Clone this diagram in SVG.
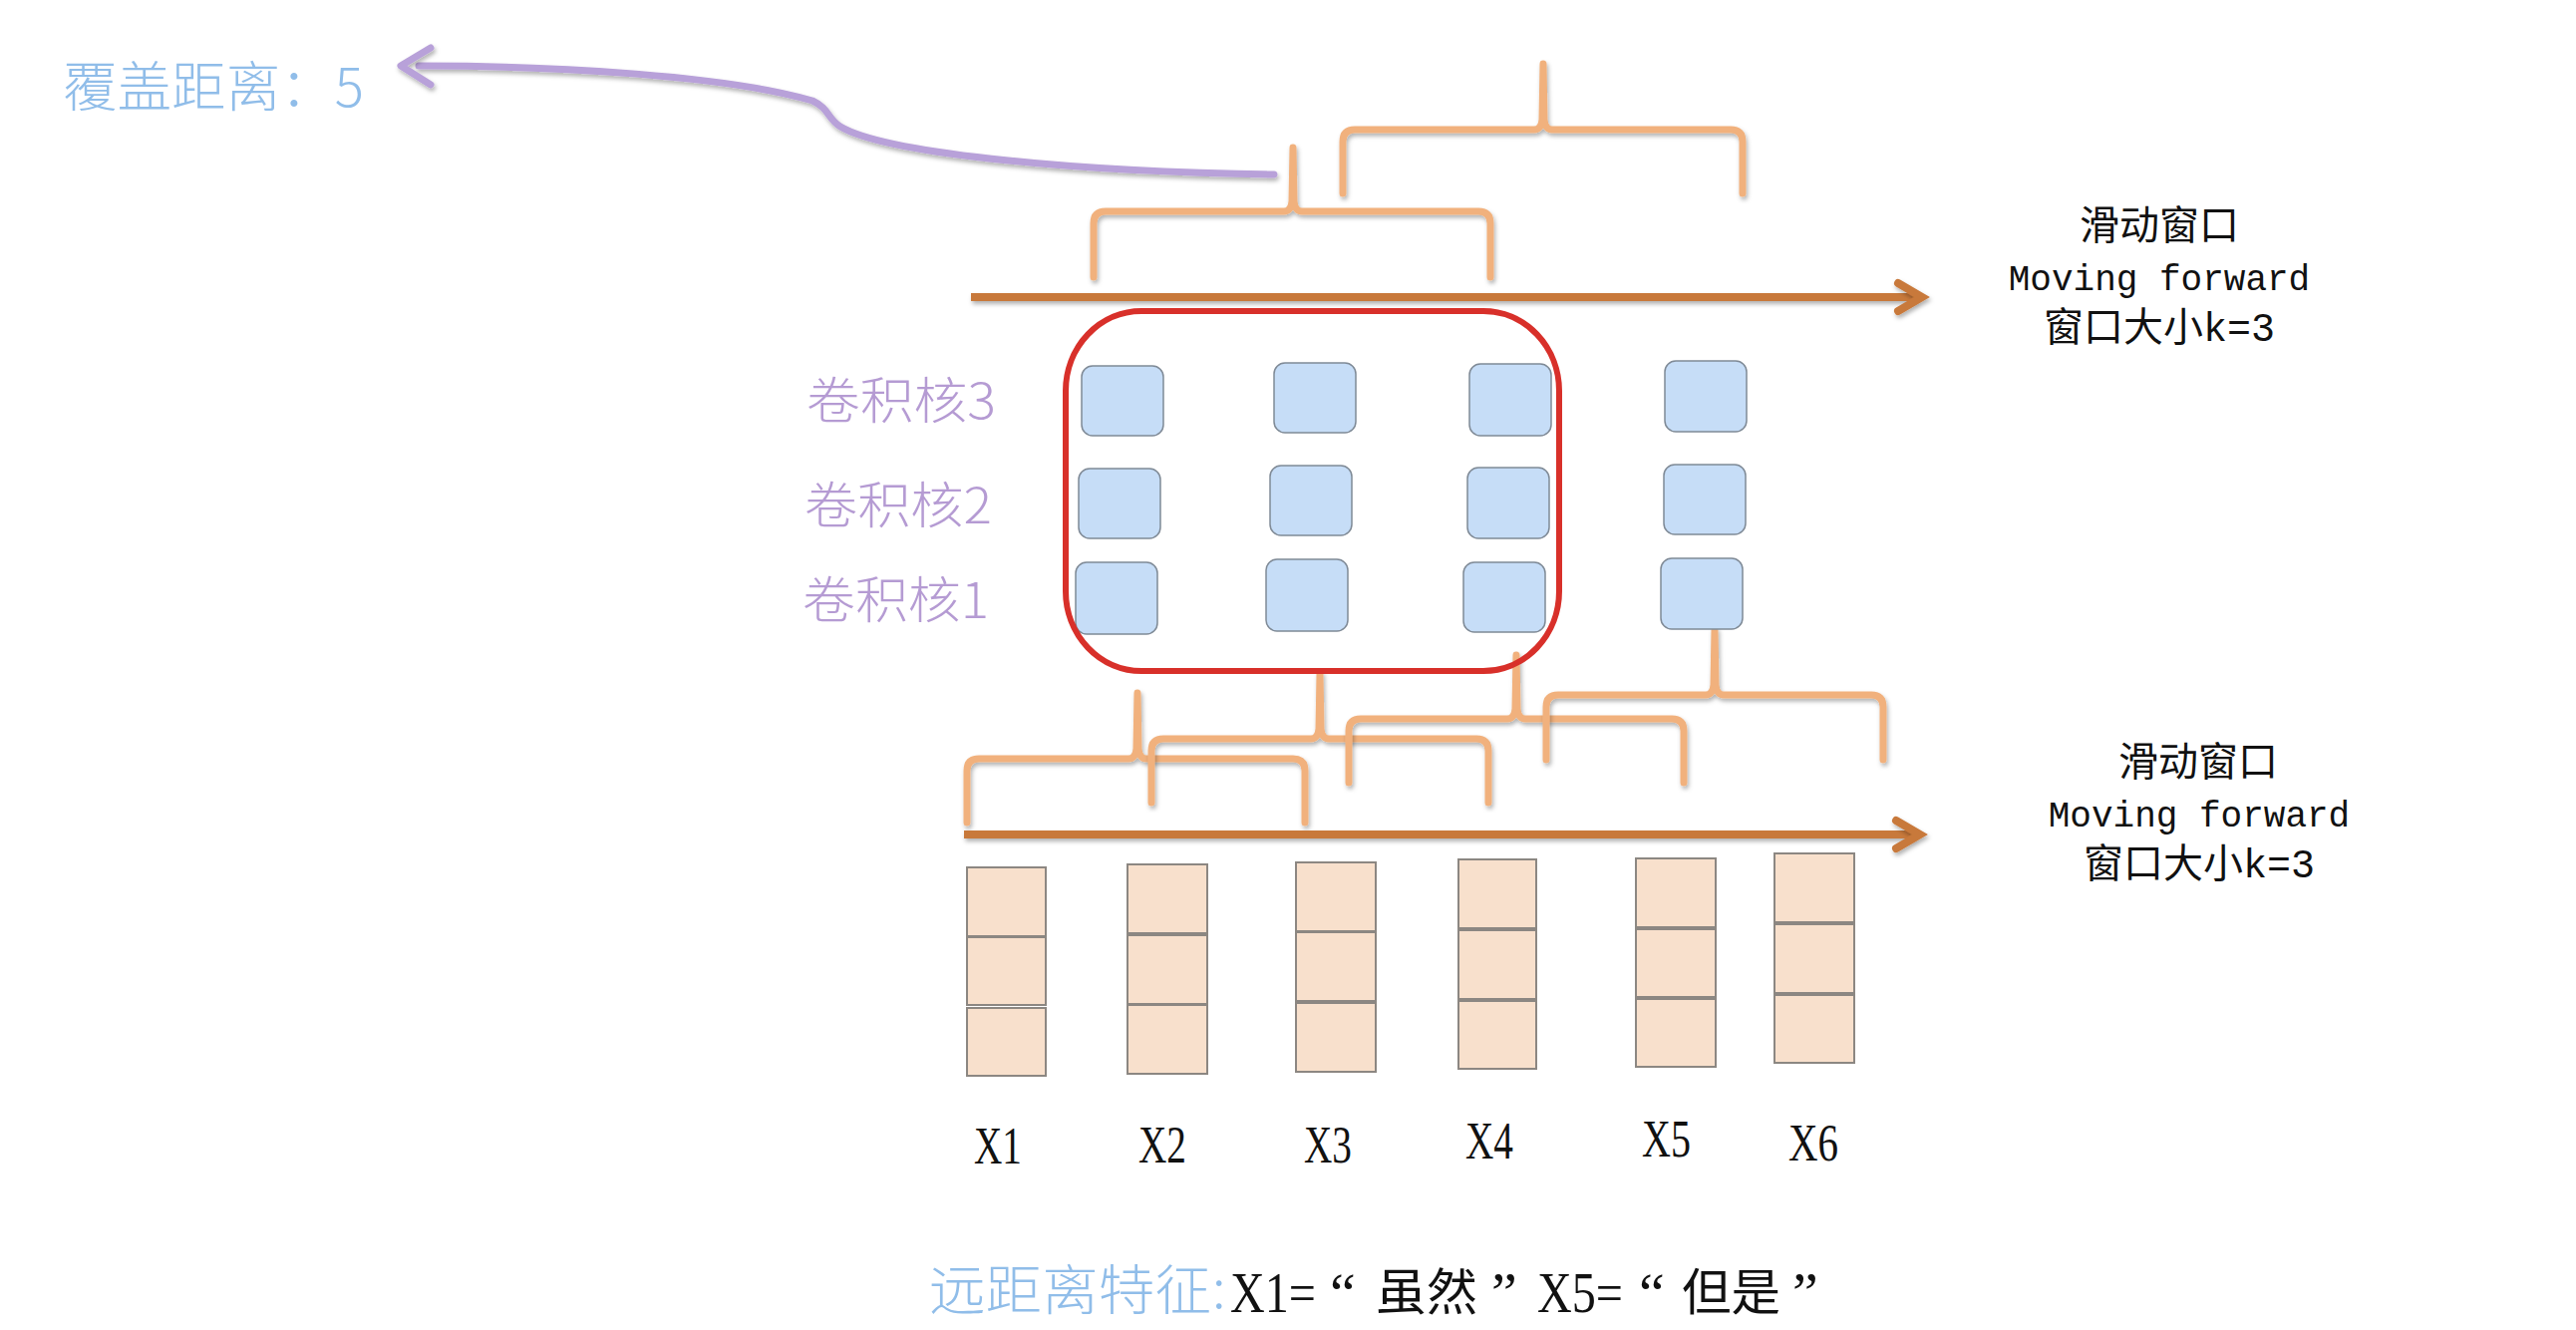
<svg xmlns="http://www.w3.org/2000/svg" width="2584" height="1334" viewBox="0 0 2584 1334">
  <defs>
    <filter id="shadow" filterUnits="userSpaceOnUse" x="0" y="0" width="2584" height="1334">
      <feDropShadow dx="1.5" dy="3" stdDeviation="2" flood-color="#000" flood-opacity="0.3"/>
    </filter>
    <style>
      .brace { fill: none; stroke: #f1b17d; stroke-width: 7; stroke-linecap: round; stroke-linejoin: round; filter: url(#shadow); }
      .flow { fill: none; stroke: #c8793b; stroke-width: 8; stroke-linecap: butt; filter: url(#shadow); }
      .flowhead { fill: none; stroke: #c8793b; stroke-width: 8; stroke-linejoin: miter; stroke-linecap: round; filter: url(#shadow); }
      .cover { fill: none; stroke: #b8a1d9; stroke-width: 7; stroke-linecap: round; stroke-linejoin: round; filter: url(#shadow); }
      .kernel { fill: #c6ddf7; stroke: #7f8a96; stroke-width: 1.5; }
      .cell { fill: #f8e0cc; stroke: #8c8782; stroke-width: 2; }
      .window { fill: none; stroke: #d8302a; stroke-width: 6; }
      .klabel { font-family: "Noto Sans CJK SC", "Noto Sans", sans-serif; font-weight: 300; font-size: 50px; fill: #b59bd3; }
      .blue { font-family: "Noto Sans CJK SC", "Noto Sans", sans-serif; font-weight: 300; font-size: 54px; fill: #90bde9; }
      .note { font-family: "Liberation Mono", "Noto Sans CJK SC", monospace; font-size: 36px; fill: #111; text-anchor: middle; }
      .notecjk { font-family: "Noto Sans CJK SC", "Liberation Mono", sans-serif; font-size: 40px; fill: #111; text-anchor: middle; }
      .notemix { font-family: "Liberation Mono", "Noto Sans CJK SC", monospace; font-size: 40px; fill: #111; text-anchor: middle; }
      .xlab { font-family: "Liberation Serif", "DejaVu Serif", serif; font-size: 52px; fill: #111; }
      .blk { font-family: "Liberation Serif", "DejaVu Serif", serif; font-size: 58px; fill: #111; }
      .blkcjk { font-family: "Noto Sans CJK SC", sans-serif; font-size: 50px; fill: #111; }
    </style>
  </defs>
  <rect width="2584" height="1334" fill="#ffffff"/>

  <!-- braces (window spans) -->
  <g id="braces">
    <path class="brace" d="M1097,278 V224 Q1097,212 1109,212 H1288 Q1295,212 1296,202 L1297,148 L1298,202 Q1299,212 1306,212 H1483 Q1495,212 1495,224 V278"/>
    <path class="brace" d="M1347,194 V142 Q1347,130 1359,130 H1539 Q1546,130 1547,120 L1548,64 L1549,120 Q1550,130 1557,130 H1736 Q1748,130 1748,142 V194"/>
    <path class="brace" d="M970,825 V773 Q970,761 982,761 H1132 Q1139,761 1140,751 L1141,695 L1142,751 Q1143,761 1150,761 H1297 Q1309,761 1309,773 V825"/>
    <path class="brace" d="M1155,805 V753 Q1155,741 1167,741 H1315 Q1322,741 1323,731 L1324,676 L1325,731 Q1326,741 1333,741 H1481 Q1493,741 1493,753 V805"/>
    <path class="brace" d="M1353,785 V733 Q1353,721 1365,721 H1512 Q1519,721 1520,711 L1521,657 L1522,711 Q1523,721 1530,721 H1677 Q1689,721 1689,733 V785"/>
    <path class="brace" d="M1551,762 V709 Q1551,697 1563,697 H1711 Q1718,697 1719,687 L1720,632 L1721,687 Q1722,697 1729,697 H1877 Q1889,697 1889,709 V762"/>
  </g>

  <!-- connectors -->
  <g id="connectors">
    <path class="cover" d="M1278,175 C1060,172 885,152 843,127 C830,119 832,109 815,101 C730,76 560,66 420,66"/>
    <path class="cover" d="M432,48 L402,66 L432,85"/>
    <path class="flow" d="M974,298 H1922"/>
    <path class="flowhead" d="M1904,284 L1928,298 L1904,312"/>
    <path class="flow" d="M967,837 H1920"/>
    <path class="flowhead" d="M1902,823 L1926,837 L1902,851"/>
  </g>

  <!-- convolution kernels -->
  <g id="kernel-col1">
    <rect class="kernel" x="1085" y="367" width="82" height="70" rx="11"/>
    <rect class="kernel" x="1082" y="470" width="82" height="70" rx="11"/>
    <rect class="kernel" x="1079" y="564" width="82" height="72" rx="11"/>
  </g>
  <g id="kernel-col2">
    <rect class="kernel" x="1278" y="364" width="82" height="70" rx="11"/>
    <rect class="kernel" x="1274" y="467" width="82" height="70" rx="11"/>
    <rect class="kernel" x="1270" y="561" width="82" height="72" rx="11"/>
  </g>
  <g id="kernel-col3">
    <rect class="kernel" x="1474" y="365" width="82" height="72" rx="11"/>
    <rect class="kernel" x="1472" y="469" width="82" height="71" rx="11"/>
    <rect class="kernel" x="1468" y="564" width="82" height="70" rx="11"/>
  </g>
  <g id="kernel-col4">
    <rect class="kernel" x="1670" y="362" width="82" height="71" rx="11"/>
    <rect class="kernel" x="1669" y="466" width="82" height="70" rx="11"/>
    <rect class="kernel" x="1666" y="560" width="82" height="71" rx="11"/>
  </g>

  <!-- current window -->
  <g id="window">
    <rect class="window" x="1069" y="312" width="495" height="361" rx="76" ry="80"/>
  </g>

  <!-- kernel labels -->
  <g id="kernel-labels">
    <text class="klabel" x="809" y="420" textLength="190" lengthAdjust="spacingAndGlyphs">卷积核3</text>
    <text class="klabel" x="807" y="525" textLength="188" lengthAdjust="spacingAndGlyphs">卷积核2</text>
    <text class="klabel" x="805" y="620" textLength="187" lengthAdjust="spacingAndGlyphs">卷积核1</text>
  </g>

  <!-- coverage label -->
  <g id="coverage-label">
    <text class="blue" x="63" y="107" textLength="302" lengthAdjust="spacingAndGlyphs">覆盖距离：5</text>
  </g>

  <!-- window notes -->
  <g id="note-top">
    <text class="notecjk" x="2166" y="240">滑动窗口</text>
    <text class="note" x="2166" y="291">Moving forward</text>
    <text class="notemix" x="2166" y="342">窗口大小k=3</text>
  </g>
  <g id="note-bottom">
    <text class="notecjk" x="2205" y="778">滑动窗口</text>
    <text class="note" x="2206" y="829">Moving forward</text>
    <text class="notemix" x="2206" y="880">窗口大小k=3</text>
  </g>

  <!-- input word vectors -->
  <g id="x1">
    <rect class="cell" x="970" y="870" width="79" height="69"/>
    <rect class="cell" x="970" y="940" width="79" height="68"/>
    <rect class="cell" x="970" y="1011" width="79" height="68"/>
    <text class="xlab" x="977" y="1167" textLength="48" lengthAdjust="spacingAndGlyphs">X1</text>
  </g>
  <g id="x2">
    <rect class="cell" x="1131" y="867" width="80" height="69"/>
    <rect class="cell" x="1131" y="938" width="80" height="69"/>
    <rect class="cell" x="1131" y="1008" width="80" height="69"/>
    <text class="xlab" x="1142" y="1166" textLength="48" lengthAdjust="spacingAndGlyphs">X2</text>
  </g>
  <g id="x3">
    <rect class="cell" x="1300" y="865" width="80" height="69"/>
    <rect class="cell" x="1300" y="935" width="80" height="69"/>
    <rect class="cell" x="1300" y="1006" width="80" height="69"/>
    <text class="xlab" x="1308" y="1166" textLength="48" lengthAdjust="spacingAndGlyphs">X3</text>
  </g>
  <g id="x4">
    <rect class="cell" x="1463" y="862" width="78" height="69"/>
    <rect class="cell" x="1463" y="933" width="78" height="69"/>
    <rect class="cell" x="1463" y="1004" width="78" height="68"/>
    <text class="xlab" x="1470" y="1162" textLength="48" lengthAdjust="spacingAndGlyphs">X4</text>
  </g>
  <g id="x5">
    <rect class="cell" x="1641" y="861" width="80" height="69"/>
    <rect class="cell" x="1641" y="932" width="80" height="68"/>
    <rect class="cell" x="1641" y="1002" width="80" height="68"/>
    <text class="xlab" x="1647" y="1160" textLength="49" lengthAdjust="spacingAndGlyphs">X5</text>
  </g>
  <g id="x6">
    <rect class="cell" x="1780" y="856" width="80" height="69"/>
    <rect class="cell" x="1780" y="927" width="80" height="69"/>
    <rect class="cell" x="1780" y="998" width="80" height="68"/>
    <text class="xlab" x="1794" y="1164" textLength="50" lengthAdjust="spacingAndGlyphs">X6</text>
  </g>

  <!-- long-distance feature caption -->
  <g id="caption">
    <text class="blue" x="932" y="1314" textLength="283" lengthAdjust="spacingAndGlyphs">远距离特征</text>
    <text class="blue" x="1216" y="1312" font-family="Liberation Sans, sans-serif" font-size="44">:</text>
    <text class="blk" x="1234" y="1316" textLength="86" lengthAdjust="spacingAndGlyphs">X1=</text>
    <text class="blk" x="1334" y="1316">“</text>
    <text class="blkcjk" x="1380" y="1314" textLength="102" lengthAdjust="spacingAndGlyphs">虽然</text>
    <text class="blk" x="1496" y="1316">”</text>
    <text class="blk" x="1542" y="1316" textLength="86" lengthAdjust="spacingAndGlyphs">X5=</text>
    <text class="blk" x="1644" y="1316">“</text>
    <text class="blkcjk" x="1687" y="1314" textLength="99" lengthAdjust="spacingAndGlyphs">但是</text>
    <text class="blk" x="1798" y="1316">”</text>
  </g>
</svg>
